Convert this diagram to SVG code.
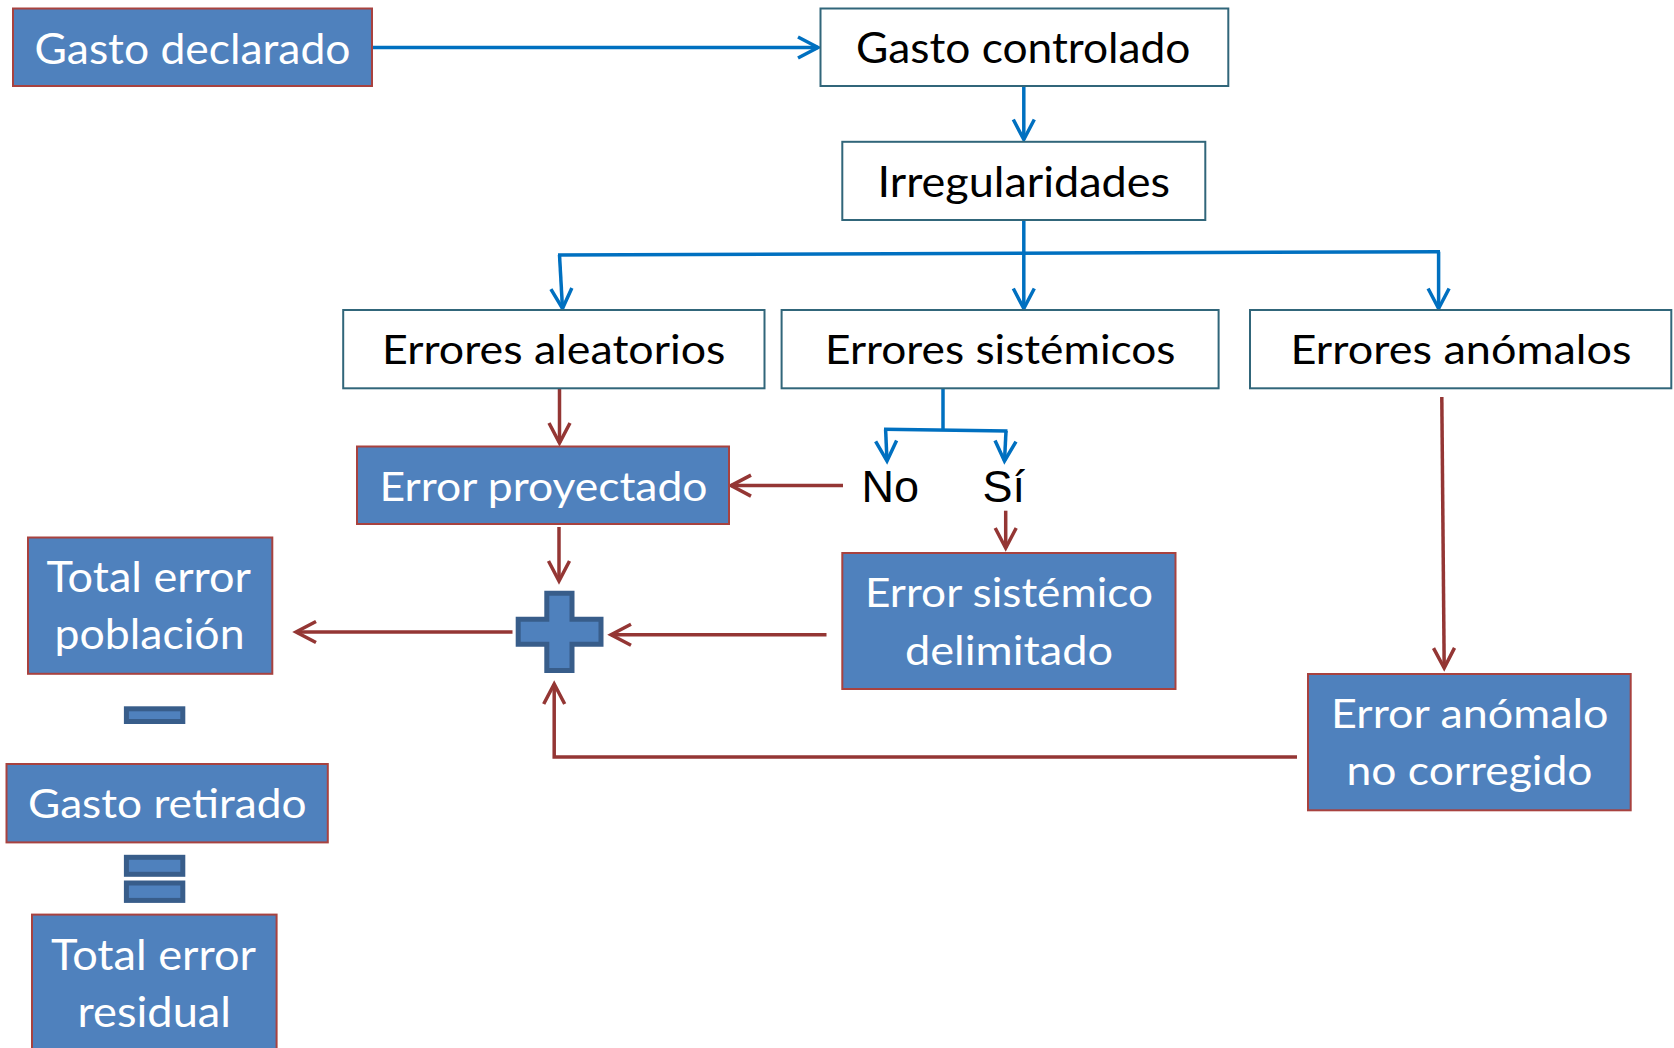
<svg xmlns="http://www.w3.org/2000/svg" width="1674" height="1048" viewBox="0 0 1674 1048">
<style>
.bbox{fill:#4F81BD;stroke:#A8423F;stroke-width:2}
.wbox{fill:#FFFFFF;stroke:#31667A;stroke-width:2}
.wt{font-family:Lato,"Open Sans","Liberation Sans",sans-serif;fill:#FFFFFF}
.bt{font-family:Lato,"Open Sans","Liberation Sans",sans-serif;fill:#000000}
.at{font-family:"Liberation Sans",Arial,sans-serif;fill:#000000;font-size:45px}
.blue{fill:none;stroke:#0070C0;stroke-width:3.5;marker-end:url(#ab)}
.bluel{fill:none;stroke:#0070C0;stroke-width:3.5}
.red{fill:none;stroke:#943634;stroke-width:3.5;marker-end:url(#ar)}
.op{fill:#4F81BD;stroke:#385D8A;stroke-width:5}
</style>
<defs>
<marker id="ab" markerUnits="userSpaceOnUse" markerWidth="30" markerHeight="30" refX="0" refY="0" orient="auto" overflow="visible">
<path d="M-20,-10.5 L0,0 L-20,10.5" fill="none" stroke="#0070C0" stroke-width="3.5" stroke-linejoin="miter"/>
</marker>
<marker id="ar" markerUnits="userSpaceOnUse" markerWidth="30" markerHeight="30" refX="0" refY="0" orient="auto" overflow="visible">
<path d="M-20,-10.5 L0,0 L-20,10.5" fill="none" stroke="#943634" stroke-width="3.5" stroke-linejoin="miter"/>
</marker>
</defs>
<rect x="0" y="0" width="1674" height="1048" fill="#FFFFFF"/>

<g id="connectors">
<path class="blue" d="M372 47.5 H818"/>
<path class="blue" d="M1023.8 86 V139.5"/>
<path class="blue" d="M1023.8 220 V308.5"/>
<path class="bluel" d="M558 255 L1440 251.7"/>
<path class="blue" d="M559.5 255 L562.5 308.5"/>
<path class="blue" d="M1438.6 251.7 V308.5"/>
<path class="bluel" d="M943 388 V430"/>
<path class="bluel" d="M884 429.3 L1007.5 431"/>
<path class="blue" d="M885.6 429.3 L887 461"/>
<path class="blue" d="M1006 431 L1004.5 461"/>
<path class="red" d="M559.5 388 V443"/>
<path class="red" d="M843 485.6 H731"/>
<path class="red" d="M1005.7 510.7 V548"/>
<path class="red" d="M559 527 V581"/>
<path class="red" d="M512.5 632 H296"/>
<path class="red" d="M826.5 634.7 H611"/>
<path class="red" d="M1297 757 H554.2 V684"/>
<path class="red" d="M1441.8 397 L1444.2 668"/>
</g>

<g id="gasto-declarado">
<rect class="bbox" x="13" y="8.5" width="359" height="77.5"/>
<text class="wt" x="34.5" y="63.5" font-size="43" textLength="316" lengthAdjust="spacingAndGlyphs">Gasto declarado</text>
</g>
<g id="gasto-controlado">
<rect class="wbox" x="820.5" y="8.5" width="407.8" height="77.5"/>
<text class="bt" x="856" y="63" font-size="43" textLength="334.5" lengthAdjust="spacingAndGlyphs">Gasto controlado</text>
</g>
<g id="irregularidades">
<rect class="wbox" x="842.3" y="141.8" width="363" height="78.2"/>
<text class="bt" x="877.5" y="197.3" font-size="43" textLength="292.5" lengthAdjust="spacingAndGlyphs">Irregularidades</text>
</g>
<g id="errores-aleatorios">
<rect class="wbox" x="343.2" y="310" width="421.3" height="78.3"/>
<text class="bt" x="382" y="363.6" font-size="40" textLength="343.5" lengthAdjust="spacingAndGlyphs">Errores aleatorios</text>
</g>
<g id="errores-sistemicos">
<rect class="wbox" x="781.6" y="310" width="437" height="78.3"/>
<text class="bt" x="825" y="363.6" font-size="40" textLength="350.5" lengthAdjust="spacingAndGlyphs">Errores sistémicos</text>
</g>
<g id="errores-anomalos">
<rect class="wbox" x="1250" y="310" width="421.3" height="78.3"/>
<text class="bt" x="1290.5" y="363.6" font-size="40" textLength="341" lengthAdjust="spacingAndGlyphs">Errores anómalos</text>
</g>
<g id="error-proyectado">
<rect class="bbox" x="357" y="446.5" width="372" height="77.5"/>
<text class="wt" x="379.5" y="500.6" font-size="40" textLength="328" lengthAdjust="spacingAndGlyphs">Error proyectado</text>
</g>
<g id="no">
<text class="at" x="861.5" y="501.6">No</text>
</g>
<g id="si">
<text class="at" x="982.5" y="501.6">Sí</text>
</g>
<g id="error-sistemico-delimitado">
<rect class="bbox" x="842.3" y="553" width="333.2" height="136"/>
<text class="wt" x="865" y="606.9" font-size="40" textLength="288" lengthAdjust="spacingAndGlyphs">Error sistémico</text>
<text class="wt" x="905" y="664.5" font-size="40" textLength="208" lengthAdjust="spacingAndGlyphs">delimitado</text>
</g>
<g id="total-error-poblacion">
<rect class="bbox" x="28" y="537.5" width="244.3" height="136.3"/>
<text class="wt" x="46.5" y="591.9" font-size="42" textLength="204.5" lengthAdjust="spacingAndGlyphs">Total error</text>
<text class="wt" x="54.5" y="649.4" font-size="42" textLength="190" lengthAdjust="spacingAndGlyphs">población</text>
</g>
<g id="plus">
<path class="op" d="M546.8 593.2 H572 V619.2 H601 V644.2 H572 V670.5 H546.8 V644.2 H518.2 V619.2 H546.8 Z"/>
</g>
<g id="minus">
<rect class="op" x="126.4" y="708.8" width="56.4" height="12.7"/>
</g>
<g id="gasto-retirado">
<rect class="bbox" x="6.5" y="764" width="321.3" height="78.4"/>
<text class="wt" x="28" y="818.3" font-size="41" textLength="278.5" lengthAdjust="spacingAndGlyphs">Gasto retirado</text>
</g>
<g id="equals">
<rect class="op" x="126.4" y="857.3" width="56.4" height="17"/>
<rect class="op" x="126.4" y="883" width="56.4" height="17.4"/>
</g>
<g id="total-error-residual">
<rect class="bbox" x="32" y="914.6" width="244.6" height="145"/>
<text class="wt" x="51" y="969.8" font-size="42" textLength="205" lengthAdjust="spacingAndGlyphs">Total error</text>
<text class="wt" x="77.5" y="1027" font-size="42" textLength="153.5" lengthAdjust="spacingAndGlyphs">residual</text>
</g>
<g id="error-anomalo-no-corregido">
<rect class="bbox" x="1308" y="674" width="322.7" height="136.3"/>
<text class="wt" x="1331" y="728" font-size="40" textLength="277.5" lengthAdjust="spacingAndGlyphs">Error anómalo</text>
<text class="wt" x="1346.5" y="784.9" font-size="40" textLength="246" lengthAdjust="spacingAndGlyphs">no corregido</text>
</g>
</svg>
